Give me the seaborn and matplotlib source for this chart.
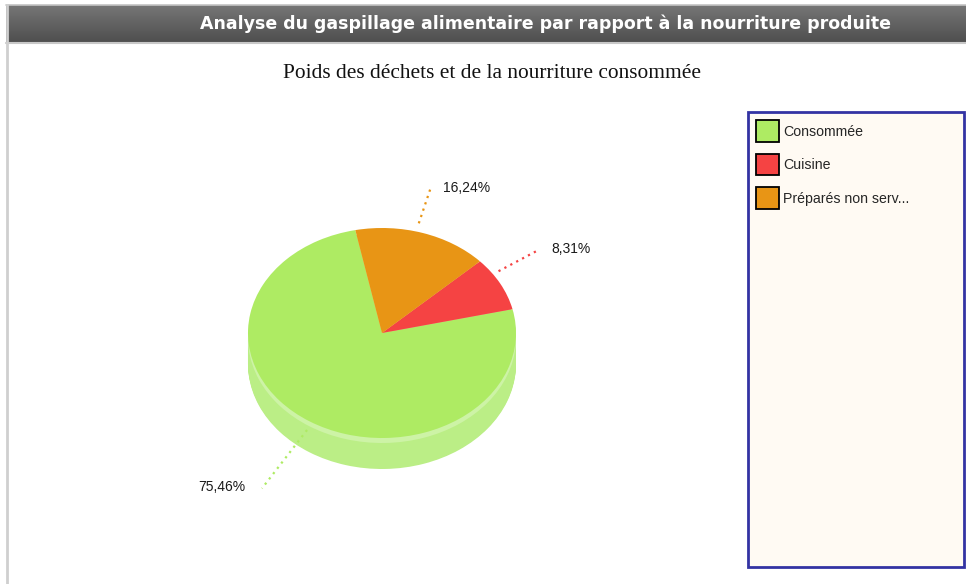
import numpy as np
import matplotlib
matplotlib.use("Agg")
import matplotlib.pyplot as plt
from matplotlib.patches import Rectangle, Patch
from matplotlib.colors import LinearSegmentedColormap
import seaborn as sns

# ---- data ----
categories = ["Consommée", "Cuisine", "Préparés non serv..."]
values = [75.46, 8.31, 16.24]
labels = ["75,46%", "8,31%", "16,24%"]
title = "Analyse du gaspillage alimentaire par rapport à la nourriture produite"
subtitle = "Poids des déchets et de la nourriture consommée"

top_colors = ["#aeeb63", "#f54343", "#e89515"]
side_colors = ["#bbee86", "#f77a7a", "#eeb060"]
rim_colors = ["#cdf3a6", "#f99a9a", "#f2c587"]

# label leader styling (perspective nudges)
leader_angle_nudge = [1.5, 6.0, 3.0]
leader_inner = [1.08, 1.05, 1.08]
leader_outer = [1.73, 1.42, 1.43]

sns.set_theme(style="white")
plt.rcParams["font.family"] = ["Liberation Sans", "DejaVu Sans"]

W, H = 966, 584
fig = plt.figure(figsize=(W / 100, H / 100), dpi=100)
fig.patch.set_facecolor("white")

bg = fig.add_axes([0, 0, 1, 1])
bg.set_xlim(0, W)
bg.set_ylim(H, 0)
bg.axis("off")

grad = np.linspace(0, 1, 64).reshape(-1, 1)
hcmap = LinearSegmentedColormap.from_list("h", ["#767676", "#4f4f4f"])
bg.imshow(grad, cmap=hcmap, aspect="auto", extent=[6, W, 42, 5], zorder=1)
bg.plot([6, W], [5, 5], color="#c4c4c4", lw=1.2, zorder=2)
bg.plot([6, W], [42.5, 42.5], color="#c8c8c8", lw=1.5, zorder=2)
bg.plot([7, 7], [5, H], color="#cfcfcf", lw=2, zorder=2)
bg.text(545.5, 24, title, color="white", fontsize=12.5, fontweight="bold",
        family=["DejaVu Sans"], ha="center", va="center", zorder=3)

bg.text(492, 73, subtitle, fontsize=15.4, family=["Liberation Serif", "DejaVu Serif"],
        ha="center", va="center", color="#111111")

bg.add_patch(Rectangle((747.5, 111.5), 216, 455, facecolor="#fffaf3",
                       edgecolor="#3333a3", lw=2, zorder=1))

# ---- pie axes: anisotropic scale gives an elliptical (tilted) pie ----
rx, ry = 134.0, 105.0
s = ry / rx
pa = fig.add_axes([0, 0, 1, 1])
pa.patch.set_alpha(0)
cx_px, cy_px = 382.0, 333.0
cx, cy = cx_px, (H - cy_px) / s
depth = 31.0 / s
startangle = 101.5

def draw_pie(colors, dy):
    w, _ = pa.pie(values, colors=colors, startangle=startangle, counterclock=True,
                  radius=rx, center=(cx, cy - dy), frame=True,
                  wedgeprops=dict(linewidth=0))
    return w

for d in np.arange(depth, 6 / s, -1.0 / s):
    draw_pie(side_colors, d)
draw_pie(rim_colors, 5.0 / s)
wedges = draw_pie(top_colors, 0)

pa.set_xlim(0, W)
pa.set_ylim(0, H / s)
pa.set_aspect("auto")
pa.axis("off")

for w, lab, col, nud, k1, k2 in zip(wedges, labels, top_colors,
                                    leader_angle_nudge, leader_inner, leader_outer):
    mid = np.deg2rad((w.theta1 + w.theta2) / 2 + nud)
    c, sn = np.cos(mid), np.sin(mid)
    x1, y1 = cx + rx * k1 * c, cy + rx * k1 * sn
    x2, y2 = cx + rx * k2 * c, cy + rx * k2 * sn
    pa.plot([x1, x2], [y1, y2], ls=(0, (1, 2)), lw=1.6, color=col)
    ha = "left" if c > 0 else "right"
    pa.text(x2 + (12 if c > 0 else -17), y2 + (0 if c > 0 else 2), lab, ha=ha, va="center",
            fontsize=10, color="#1a1a1a")

handles = [Patch(facecolor=c, edgecolor="black", lw=1.3) for c in top_colors]
fig.legend(handles, categories, loc="upper left", bbox_to_anchor=(755 / W, 1 - 119 / H),
           frameon=False, fontsize=10.2, handlelength=1.6, handleheight=1.95,
           handletextpad=0.3, labelspacing=0.85, borderaxespad=0, borderpad=0.1)

fig.savefig("out.png", dpi=100)
